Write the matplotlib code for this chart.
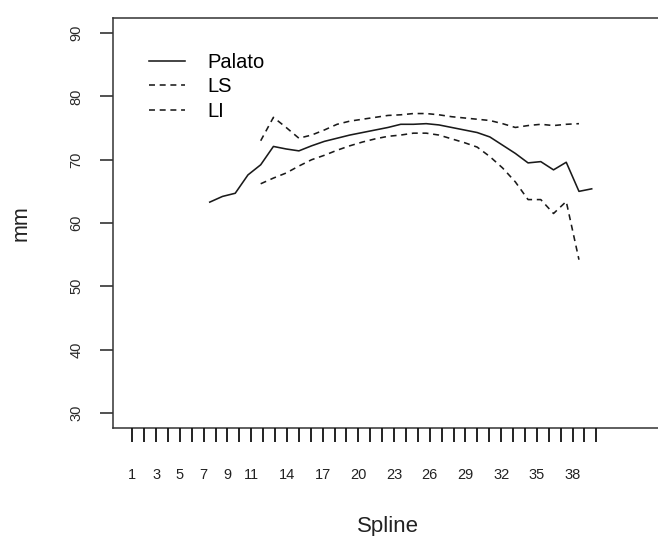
import matplotlib
matplotlib.use("Agg")
import matplotlib.pyplot as plt

plt.rcParams['font.family'] = ['Liberation Sans', 'DejaVu Sans']
plt.rcParams['lines.scale_dashes'] = False

# Spline index of every point and the measured curves (mm)
palato_x = list(range(7, 38))
palato = [63.3, 64.2, 64.7, 67.6, 69.2, 72.1, 71.7, 71.4, 72.2, 72.9,
          73.4, 73.9, 74.3, 74.7, 75.1, 75.6, 75.6, 75.7, 75.5, 75.1,
          74.7, 74.3, 73.6, 72.3, 71.0, 69.5, 69.7, 68.4, 69.6, 65.0,
          65.4]

ls_x = list(range(11, 37))
ls = [73.0, 76.7, 75.1, 73.4, 73.9, 74.7, 75.6, 76.1, 76.4, 76.7,
      77.0, 77.1, 77.3, 77.3, 77.1, 76.8, 76.6, 76.4, 76.2, 75.7,
      75.1, 75.4, 75.6, 75.4, 75.6, 75.7]

li_x = list(range(11, 37))
li = [66.2, 67.1, 67.9, 69.0, 70.0, 70.7, 71.5, 72.2, 72.8, 73.3,
      73.7, 73.9, 74.2, 74.2, 73.9, 73.3, 72.7, 72.0, 70.5, 68.7,
      66.5, 63.7, 63.7, 61.5, 63.4, 54.2]

# Axis annotation
spline_ticks = list(range(1, 41))
spline_labels = [1, 3, 5, 7, 9, 11, 14, 17, 20, 23, 26, 29, 32, 35, 38]
y_ticks = [30, 40, 50, 60, 70, 80, 90]

ink = '#1a1a1a'
frame = '#333333'
dash = (0, (4.3, 3.4))

fig = plt.figure(figsize=(6.58, 5.36), dpi=100)
pos = [113 / 658, 1 - 428 / 536, 550 / 658, 410 / 536]
ax = fig.add_axes(pos)

ax.plot(palato_x, palato, color=ink, lw=1.15, label='Palato')
ax.plot(ls_x, ls, color=ink, lw=1.15, linestyle=dash, label='LS')
ax.plot(li_x, li, color=ink, lw=1.15, linestyle=dash, label='LI')

ax.set_xlim(-0.6, 42.6)
ax.set_ylim(27.6, 92.4)
ax.set_xticks([])
ax.set_yticks(y_ticks)
ax.set_yticklabels([str(v) for v in y_ticks], rotation=90, va='center')
ax.tick_params(axis='y', direction='out', length=9.5, width=1.2,
               color=frame, pad=12, labelsize=10.5, labelcolor='#2a2a2a')
for s in ax.spines.values():
    s.set_color(frame)
    s.set_linewidth(1.1)

ax.set_ylabel('mm', fontsize=15.5, color='#222222', labelpad=27)

# Separate tick row for the spline numbers below the frame
axt = fig.add_axes(pos, frameon=False)
axt.patch.set_visible(False)
axt.set_xlim(-0.62, 45.6)
axt.yaxis.set_visible(False)
axt.set_xticks(spline_ticks)
axt.set_xticklabels([str(t) if t in spline_labels else '' for t in spline_ticks])
axt.tick_params(axis='x', direction='out', length=10, width=1.3,
                color='#111111', pad=19, labelsize=10.5, labelcolor='#222222')
axt.set_xlabel('Spline', fontsize=16, color='#222222', labelpad=24)

leg = ax.legend(loc='upper left', bbox_to_anchor=(0.065, 0.915), frameon=False,
                fontsize=14.5, handlelength=1.8, handletextpad=1.1,
                labelspacing=0.28, borderaxespad=0, borderpad=0)

fig.savefig('out.png', dpi=100)
